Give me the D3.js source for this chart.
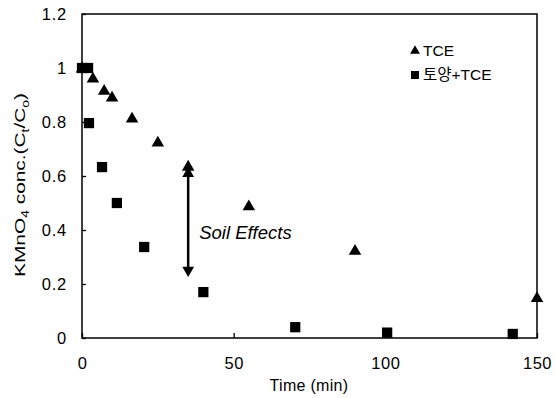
<!DOCTYPE html>
<html>
<head>
<meta charset="utf-8">
<script src="https://cdn.jsdelivr.net/npm/d3@7"></script>
<style>
  body { margin: 0; background: #fff; }
  svg { font-family: "Liberation Sans", Arial, sans-serif; }
</style>
</head>
<body>
<div id="chart"></div>
<script>
// TCE alone
const tceTime = [0, 3.6, 7.3, 9.9, 16.5, 25, 35, 55, 90, 150];
const tceConc = [1.0, 0.963, 0.918, 0.893, 0.815, 0.726, 0.637, 0.49, 0.325, 0.15];
// soil + TCE
const soilTime = [0, 2, 2.3, 6.6, 11.5, 20.5, 40, 70.3, 100.6, 142];
const soilConc = [1.0, 1.0, 0.796, 0.633, 0.5, 0.337, 0.17, 0.04, 0.02, 0.015];

const yTicks = [0, 0.2, 0.4, 0.6, 0.8, 1, 1.2];
const xTicks = [0, 50, 100, 150];
const legendLabels = ["TCE", "토양+TCE"];
// soil effects arrow: time, from, to
const arrowTime = 35;
const arrowSpan = [0.605, 0.255];

const width = 555, height = 398;
const margin = { left: 82, right: 18, top: 14, bottom: 60 };

const svg = d3.select("#chart").append("svg")
    .attr("width", width)
    .attr("height", height);

const x = d3.scaleLinear().domain([0, 150]).range([margin.left, width - margin.right]);
const y = d3.scaleLinear().domain([0, 1.2]).range([height - margin.bottom, margin.top]);

// frame
svg.append("rect")
    .attr("x", x(0))
    .attr("y", y(1.2))
    .attr("width", x(150) - x(0))
    .attr("height", y(0) - y(1.2))
    .attr("fill", "none")
    .attr("stroke", "#000")
    .attr("stroke-width", 1.5);

// y axis ticks (inward) and labels
const yAxis = svg.append("g")
    .attr("transform", `translate(${x(0)},0)`)
    .call(d3.axisLeft(y).tickValues(yTicks).tickSize(-4).tickPadding(15)
        .tickFormat(d => d3.format("~g")(d)));
yAxis.select(".domain").remove();
yAxis.selectAll("line").attr("stroke-width", 1.3);
yAxis.selectAll("text").attr("font-size", 16.5).attr("letter-spacing", 0.8).attr("fill", "#000");

// x axis
const xAxis = svg.append("g")
    .attr("transform", `translate(0,${y(0)})`)
    .call(d3.axisBottom(x).tickValues(xTicks).tickSize(-5).tickPadding(19));
xAxis.select(".domain").remove();
xAxis.selectAll("line").attr("stroke-width", 1.3);
xAxis.selectAll("text").attr("font-size", 16.5).attr("letter-spacing", 0.5).attr("fill", "#000");

// axis titles
svg.append("text")
    .attr("x", 309)
    .attr("y", 391)
    .attr("text-anchor", "middle")
    .attr("font-size", 16)
    .attr("letter-spacing", 0.3)
    .text("Time (min)");

const yTitle = svg.append("text")
    .attr("transform", `translate(25,${185}) rotate(-90)`)
    .attr("text-anchor", "middle")
    .attr("font-size", 15)
    .attr("textLength", 184)
    .attr("lengthAdjust", "spacingAndGlyphs");
yTitle.append("tspan").text("KMnO");
yTitle.append("tspan").attr("font-size", 10).attr("dy", 4).text("4");
yTitle.append("tspan").attr("dy", -4).text(" conc.(C");
yTitle.append("tspan").attr("font-size", 10).attr("dy", 4).text("t");
yTitle.append("tspan").attr("dy", -4).text("/C");
yTitle.append("tspan").attr("font-size", 10).attr("dy", 4).text("o");
yTitle.append("tspan").attr("dy", -4).text(")");

// markers
const tri = d3.symbol().type(d3.symbolTriangle).size(68);
const sq = d3.symbol().type(d3.symbolSquare).size(105);

svg.append("g").selectAll("path")
    .data(soilTime.map((t, i) => [t, soilConc[i]]))
    .enter().append("path")
    .attr("d", sq)
    .attr("transform", d => `translate(${x(d[0])},${y(d[1])})`)
    .attr("fill", "#000");

svg.append("g").selectAll("path")
    .data(tceTime.map((t, i) => [t, tceConc[i]]))
    .enter().append("path")
    .attr("d", tri)
    .attr("transform", d => `translate(${x(d[0])},${y(d[1]) + 1})`)
    .attr("fill", "#000");

// soil effects double arrow
const ax = x(arrowTime);
svg.append("line")
    .attr("x1", ax).attr("x2", ax)
    .attr("y1", y(arrowSpan[0])).attr("y2", y(arrowSpan[1]))
    .attr("stroke", "#000")
    .attr("stroke-width", 2.5);
const head = d3.symbol().type(d3.symbolTriangle).size(60);
svg.append("path")
    .attr("d", head)
    .attr("transform", `translate(${ax},${y(arrowSpan[0]) - 1})`);
svg.append("path")
    .attr("d", head)
    .attr("transform", `translate(${ax},${y(arrowSpan[1]) + 1}) rotate(180)`);

svg.append("text")
    .attr("x", ax + 11)
    .attr("y", 239)
    .attr("font-size", 18.5)
    .attr("font-style", "italic")
    .text("Soil Effects");

// legend
const legend = svg.append("g");
legendLabels.forEach((lab, i) => {
    const ly = 56 + i * 24;
    legend.append("path")
        .attr("d", i === 0 ? d3.symbol().type(d3.symbolTriangle).size(42) : d3.symbol().type(d3.symbolSquare).size(64))
        .attr("transform", `translate(415,${ly - 5})`);
    legend.append("text")
        .attr("x", 423)
        .attr("y", ly)
        .attr("font-size", 15.5)
        .attr("font-family", "'Liberation Sans', 'Noto Sans CJK KR', sans-serif")
        .text(lab);
});
</script>
</body>
</html>
